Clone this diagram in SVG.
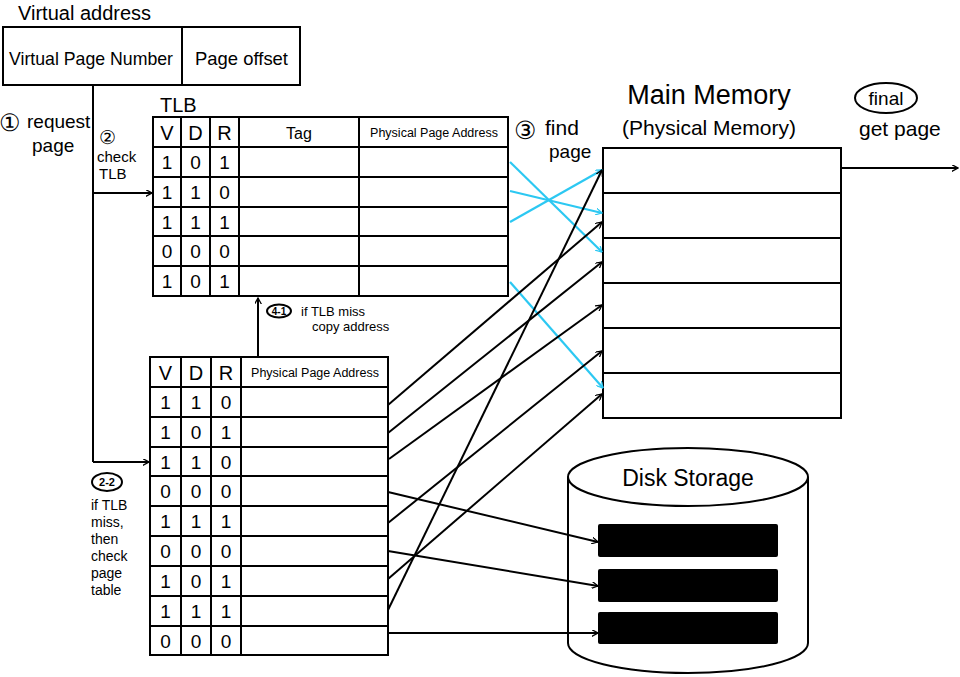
<svg xmlns="http://www.w3.org/2000/svg" width="960" height="677" viewBox="0 0 960 677">
<defs>
<style>
.box{fill:#fff;stroke:#000;stroke-width:2}
.ln{stroke:#000;stroke-width:2;fill:none}
.t{font-family:"Liberation Sans",Arial,sans-serif;fill:#000}
.c{text-anchor:middle}
.bit{font-family:"Liberation Sans",Arial,sans-serif;font-size:19px;text-anchor:middle;fill:#000}
.hd{font-family:"Liberation Sans",Arial,sans-serif;font-size:20px;text-anchor:middle;fill:#000}
.blk{stroke:#000;stroke-width:2;fill:none;marker-end:url(#ah)}
.cy{stroke:#2cc8f2;stroke-width:2.2;fill:none;marker-end:url(#ahc)}
</style>
<marker id="ah" viewBox="0 0 10 10" refX="9" refY="5" markerWidth="7" markerHeight="7" markerUnits="userSpaceOnUse" orient="auto"><path d="M0,0 L9,5 L0,10" fill="none" stroke="#000" stroke-width="1.8"/></marker>
<marker id="ahc" viewBox="0 0 10 10" refX="9" refY="5" markerWidth="7" markerHeight="7" markerUnits="userSpaceOnUse" orient="auto"><path d="M0,0 L9,5 L0,10" fill="none" stroke="#2cc8f2" stroke-width="1.8"/></marker>
</defs>
<rect width="960" height="677" fill="#fff"/>

<g id="virtual-address">
<text class="t" x="18" y="20" font-size="20">Virtual address</text>
<rect class="box" x="3" y="27" width="297" height="58"/>
<line class="ln" x1="182" y1="27" x2="182" y2="85"/>
<text class="t" x="9" y="65" font-size="19" textLength="164" lengthAdjust="spacingAndGlyphs">Virtual Page Number</text>
<text class="t" x="195" y="65" font-size="19" textLength="93" lengthAdjust="spacingAndGlyphs">Page offset</text>
</g>

<g id="tlb">
<text class="t" x="160" y="112" font-size="20">TLB</text>
<rect class="box" x="153" y="117" width="355" height="179"/>
<path class="ln" d="M153,147H508M153,177H508M153,207H508M153,236H508M153,266H508M181,117V296M210,117V296M239,117V296M359,117V296"/>
<text class="hd" x="167" y="140">V</text>
<text class="hd" x="195.5" y="140">D</text>
<text class="hd" x="224.5" y="140">R</text>
<text class="t c" x="299" y="139" font-size="16">Tag</text>
<text class="t c" x="434" y="137" font-size="12.5">Physical Page Address</text>
<text class="bit" x="167" y="169">1</text><text class="bit" x="195.5" y="169">0</text><text class="bit" x="224.5" y="169">1</text>
<text class="bit" x="167" y="199">1</text><text class="bit" x="195.5" y="199">1</text><text class="bit" x="224.5" y="199">0</text>
<text class="bit" x="167" y="229">1</text><text class="bit" x="195.5" y="229">1</text><text class="bit" x="224.5" y="229">1</text>
<text class="bit" x="167" y="258">0</text><text class="bit" x="195.5" y="258">0</text><text class="bit" x="224.5" y="258">0</text>
<text class="bit" x="167" y="288">1</text><text class="bit" x="195.5" y="288">0</text><text class="bit" x="224.5" y="288">1</text>
</g>

<g id="page-table">
<rect class="box" x="150" y="357" width="238" height="298"/>
<path class="ln" d="M150,387H388M150,417H388M150,447H388M150,476H388M150,506H388M150,536H388M150,566H388M150,596H388M150,626H388M181,357V655M211,357V655M241,357V655"/>
<text class="hd" x="165.5" y="380">V</text>
<text class="hd" x="196" y="380">D</text>
<text class="hd" x="226" y="380">R</text>
<text class="t c" x="315" y="377" font-size="12.5">Physical Page Address</text>
<text class="bit" x="165.5" y="409">1</text><text class="bit" x="196" y="409">1</text><text class="bit" x="226" y="409">0</text>
<text class="bit" x="165.5" y="439">1</text><text class="bit" x="196" y="439">0</text><text class="bit" x="226" y="439">1</text>
<text class="bit" x="165.5" y="469">1</text><text class="bit" x="196" y="469">1</text><text class="bit" x="226" y="469">0</text>
<text class="bit" x="165.5" y="498">0</text><text class="bit" x="196" y="498">0</text><text class="bit" x="226" y="498">0</text>
<text class="bit" x="165.5" y="528">1</text><text class="bit" x="196" y="528">1</text><text class="bit" x="226" y="528">1</text>
<text class="bit" x="165.5" y="558">0</text><text class="bit" x="196" y="558">0</text><text class="bit" x="226" y="558">0</text>
<text class="bit" x="165.5" y="588">1</text><text class="bit" x="196" y="588">0</text><text class="bit" x="226" y="588">1</text>
<text class="bit" x="165.5" y="618">1</text><text class="bit" x="196" y="618">1</text><text class="bit" x="226" y="618">1</text>
<text class="bit" x="165.5" y="648">0</text><text class="bit" x="196" y="648">0</text><text class="bit" x="226" y="648">0</text>
</g>

<g id="main-memory">
<text class="t c" x="709" y="104" font-size="27">Main Memory</text>
<text class="t c" x="709" y="135" font-size="21">(Physical Memory)</text>
<rect class="box" x="603" y="148" width="238" height="270"/>
<path class="ln" d="M603,193H841M603,238H841M603,283H841M603,328H841M603,373H841"/>
</g>

<g id="disk-storage">
<path class="box" d="M568,477 V643 A120,30 0 0 0 808,643 V477"/>
<ellipse class="box" cx="688" cy="477" rx="120" ry="29"/>
<text class="t c" x="688" y="486" font-size="23">Disk Storage</text>
<rect x="598" y="524" width="180" height="33" rx="2" fill="#000"/>
<rect x="598" y="569" width="180" height="33" rx="2" fill="#000"/>
<rect x="598" y="612" width="180" height="32" rx="2" fill="#000"/>
</g>

<g id="labels">
<text class="t" x="-1" y="131" font-size="24" font-family="DejaVu Sans">①</text>
<text class="t" x="27" y="128" font-size="19">request</text>
<text class="t" x="32" y="152" font-size="19">page</text>
<text class="t" x="99" y="144" font-size="19" font-family="DejaVu Sans">②</text>
<text class="t" x="97" y="162" font-size="15">check</text>
<text class="t" x="99" y="179" font-size="15">TLB</text>
<text class="t" x="514" y="139" font-size="25" font-family="DejaVu Sans">③</text>
<text class="t" x="545" y="135" font-size="21">find</text>
<text class="t" x="549" y="158" font-size="19">page</text>
<ellipse cx="886" cy="98" rx="31" ry="15" fill="none" stroke="#000" stroke-width="2"/>
<text class="t c" x="886" y="105" font-size="19">final</text>
<text class="t" x="859" y="136" font-size="21">get page</text>
<ellipse cx="279" cy="311" rx="12" ry="6.5" fill="none" stroke="#000" stroke-width="2"/>
<text class="t c" x="279" y="315" font-size="10" font-weight="bold">4-1</text>
<text class="t" x="301" y="316" font-size="13">if TLB miss</text>
<text class="t" x="312" y="331" font-size="13">copy address</text>
<ellipse cx="107" cy="482" rx="15" ry="9" fill="none" stroke="#000" stroke-width="2"/>
<text class="t c" x="107" y="486" font-size="11" font-weight="bold">2-2</text>
<text class="t" x="91" y="510" font-size="14">if TLB</text>
<text class="t" x="91" y="527" font-size="14">miss,</text>
<text class="t" x="91" y="544" font-size="14">then</text>
<text class="t" x="91" y="561" font-size="14">check</text>
<text class="t" x="91" y="578" font-size="14">page</text>
<text class="t" x="91" y="595" font-size="14">table</text>
</g>

<g id="connectors">
<path class="ln" d="M93,85 V462"/>
<path class="blk" d="M93,193 H152"/>
<path class="blk" d="M93,462 H149"/>
<path class="blk" d="M258,357 V298"/>
<path class="blk" d="M841,168 H958"/>
<path class="cy" d="M510,162 L602,252"/>
<path class="cy" d="M510,191 L602,213"/>
<path class="cy" d="M510,222 L602,170"/>
<path class="cy" d="M510,282 L603,388"/>
<path class="blk" d="M388,405 L602,222"/>
<path class="blk" d="M388,433 L602,262"/>
<path class="blk" d="M389,459 L602,305"/>
<path class="blk" d="M388,523 L602,351"/>
<path class="blk" d="M388,579 L602,394"/>
<path class="blk" d="M388,610 L602,170"/>
<path class="blk" d="M388,492 L598,542"/>
<path class="blk" d="M388,551 L598,586"/>
<path class="blk" d="M388,633 L598,633"/>
</g>
</svg>
